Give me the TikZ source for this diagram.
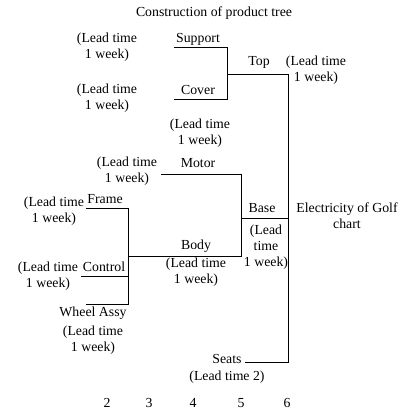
\documentclass[tikz,border=0pt]{standalone}
\usepackage{fontspec}
\setmainfont{Liberation Serif}
\usetikzlibrary{positioning}

\begin{document}
\begin{tikzpicture}[x=1pt,y=-1pt,font=\fontsize{13.8}{16}\selectfont]
\tikzset{lbl/.style={align=center,inner sep=0pt}, tree/.style={line width=1pt,color=black}}
\useasboundingbox (0,0) rectangle (400,414);
\node[lbl] (title) at (214,13) {Construction of product tree};
% top branch
\coordinate (sup) at (174,48);
\coordinate (supj) at (227,48);
\coordinate (cov) at (174,100);
\coordinate (covj) at (227,100);
\coordinate (topj) at (227,75);
\coordinate (top6) at (288,75);
\coordinate (seat6) at (288,362);
\coordinate (seat) at (245,362);
\draw[tree] (sup) -- (supj) -- (covj) -- (cov);
\draw[tree] (topj) -- (top6) -- (seat6) -- (seat);
\node[lbl] (support) at (198,39) {Support};
\node[lbl] (supportlt) at (107,47) {(Lead time\\1 week)};
\node[lbl] (cover) at (198,90) {Cover};
\node[lbl] (coverlt) at (107,98) {(Lead time\\1 week)};
\node[lbl] (top) at (259,62) {Top};
\node[lbl] (toplt) at (316,70) {(Lead time\\1 week)};
% base branch
\coordinate (base6) at (288,218);
\coordinate (basej) at (241,218);
\coordinate (mot) at (161,174);
\coordinate (motj) at (241,174);
\coordinate (bodyj) at (241,256);
\coordinate (bodyl) at (128,256);
\draw[tree] (base6) -- (basej);
\draw[tree] (mot) -- (motj) -- (bodyj) -- (bodyl);
\node[lbl] (motorlt0) at (200,133) {(Lead time\\1 week)};
\node[lbl] (motor) at (198,163) {Motor};
\node[lbl] (motorlt) at (127,171) {(Lead time\\1 week)};
\node[lbl] (base) at (262,208) {Base};
\node[lbl] (baselt) at (266,247) {(Lead\\time\\1 week)};
\node[lbl] (chart) at (347,216) {Electricity of Golf\\chart};
\node[lbl] (body) at (196,246) {Body};
\node[lbl] (bodylt) at (196,272) {(Lead time\\1 week)};
% body branch
\coordinate (frm) at (86,208);
\coordinate (frmj) at (128,208);
\coordinate (ctl) at (81,276);
\coordinate (ctlj) at (128,276);
\coordinate (whl) at (86,304);
\coordinate (whlj) at (128,304);
\draw[tree] (frm) -- (frmj) -- (whlj) -- (whl);
\draw[tree] (ctl) -- (ctlj);
\node[lbl] (frame) at (105,199) {Frame};
\node[lbl] (framelt) at (54,211) {(Lead time\\1 week)};
\node[lbl] (control) at (104,267) {Control};
\node[lbl] (controllt) at (48,276) {(Lead time\\1 week)};
\node[lbl] (wheel) at (93,313) {Wheel Assy};
\node[lbl] (wheellt) at (93,340) {(Lead time\\1 week)};
\node[lbl] (seats) at (227,359) {Seats};
\node[lbl] (seatslt) at (227,377) {(Lead time 2)};
% levels
\foreach \x/\n in {107/2,149/3,193/4,241/5,287/6}
  \node[lbl] (lev\n) at (\x,403) {\n};
\end{tikzpicture}
\end{document}
